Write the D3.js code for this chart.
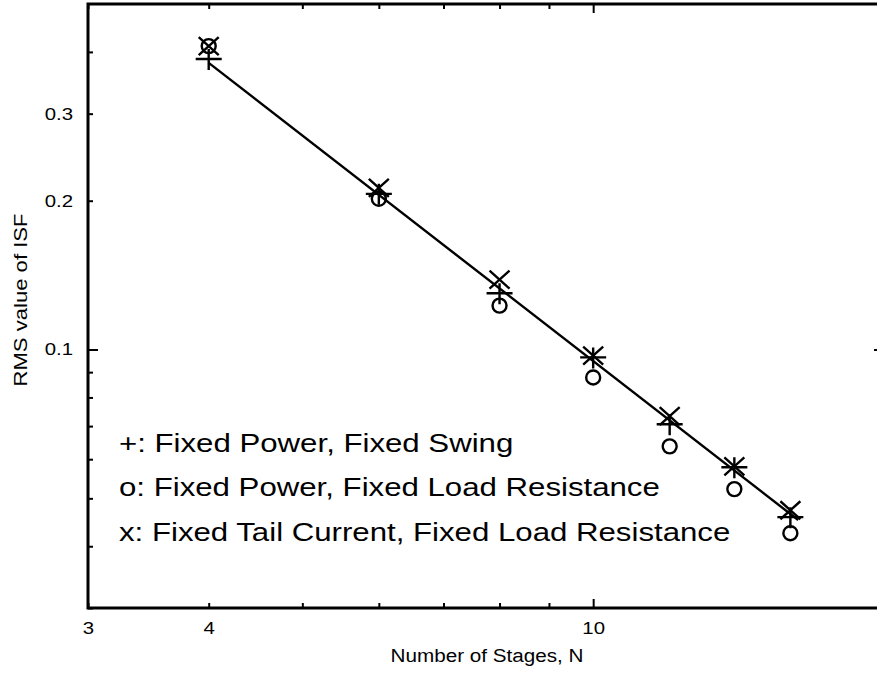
<!DOCTYPE html>
<html>
<head>
<meta charset="utf-8">
<script src="https://cdn.jsdelivr.net/npm/d3@7"></script>
<style>
  body { margin: 0; background: #fff; }
  svg { display: block; font-family: "Liberation Sans", Arial, sans-serif; }
</style>
</head>
<body>
<svg></svg>
<script>
const stages = [4, 6, 8, 10, 12, 14, 16];
const fixedSwing = [0.387, 0.2065, 0.130, 0.0964, 0.0706, 0.0578, 0.0458];
const fixedLoad = [0.411, 0.2018, 0.1227, 0.0878, 0.0637, 0.0522, 0.0425];
const fixedTail = [0.411, 0.2124, 0.1385, 0.0972, 0.0733, 0.0580, 0.0473];

// straight fitted line, end points
const fitStages = [4, 16.3];
const fitValues = [0.380, 0.0452];

const xTicks = [3, 4, 5, 6, 7, 8, 9, 10];
const xLabels = [3, 4, 10];
const yTicks = [0.03, 0.04, 0.05, 0.06, 0.07, 0.08, 0.09, 0.1, 0.2, 0.3, 0.4];
const yLabels = [0.1, 0.2, 0.3];

const legendLabels = [
  "+: Fixed Power, Fixed Swing",
  "o: Fixed Power, Fixed Load Resistance",
  "x: Fixed Tail Current, Fixed Load Resistance"
];

const width = 877;
const height = 675;
const plotLeft = 88, plotRight = 884, plotTop = 4, plotBottom = 608;
const stretch = 1.2; // the scanned lettering is wider than Liberation Sans

const svg = d3.select("svg").attr("width", width).attr("height", height);

const xScale = d3.scaleLog().domain([3, 20]).range([plotLeft, plotRight]);
const yScale = d3.scaleLog().domain([0.03, 0.5]).range([plotBottom, plotTop]);

const isMajor = (v) => Math.abs(Math.log10(v) - Math.round(Math.log10(v))) < 1e-9;

const drawAxes = () => {
  const fmtX = (d) => xLabels.includes(d) ? d : "";
  const fmtY = (d) => yLabels.includes(d) ? d : "";

  const bottomAxis = d3.axisBottom(xScale).tickValues(xTicks).tickFormat(fmtX).tickSizeOuter(0);
  const topAxis = d3.axisTop(xScale).tickValues(xTicks).tickFormat("").tickSizeOuter(0);
  const leftAxis = d3.axisLeft(yScale).tickValues(yTicks).tickFormat(fmtY).tickSizeOuter(0);
  const rightAxis = d3.axisRight(yScale).tickValues(yTicks).tickFormat("").tickSizeOuter(0);

  const gb = svg.append("g").attr("transform", `translate(0,${plotBottom})`).call(bottomAxis);
  const gt = svg.append("g").attr("transform", `translate(0,${plotTop})`).call(topAxis);
  const gl = svg.append("g").attr("transform", `translate(${plotLeft},0)`).call(leftAxis);
  const gr = svg.append("g").attr("transform", `translate(${plotRight},0)`).call(rightAxis);

  [gb, gt, gl, gr].forEach((g) => {
    g.select(".domain").remove();
    g.selectAll("line").attr("stroke", "#000").attr("stroke-width", 2);
    g.selectAll("text").attr("fill", "#000").style("font-size", "17px");
  });

  // ticks point into the plot
  gb.selectAll(".tick line").attr("y2", (d) => isMajor(d) ? -9 : -5);
  gt.selectAll(".tick line").attr("y2", (d) => isMajor(d) ? 9 : 5);
  gl.selectAll(".tick line").attr("x2", (d) => isMajor(d) ? 10 : 5);
  gr.selectAll(".tick line").attr("x2", (d) => isMajor(d) ? -10 : -5);
  gb.selectAll(".tick text").attr("y", 14).attr("transform", `scale(${stretch},1)`);
  gl.selectAll(".tick text").attr("x", -15 / stretch).attr("transform", `scale(${stretch},1)`);

  svg.append("rect")
     .attr("x", plotLeft).attr("y", plotTop)
     .attr("width", plotRight - plotLeft).attr("height", plotBottom - plotTop)
     .attr("fill", "none").attr("stroke", "#000").attr("stroke-width", 3);

  svg.append("text")
     .attr("x", 487).attr("y", 662)
     .attr("text-anchor", "middle")
     .attr("textLength", 193).attr("lengthAdjust", "spacingAndGlyphs")
     .style("font-size", "18px")
     .text("Number of Stages, N");

  svg.append("text")
     .attr("transform", "translate(27,300) rotate(-90)")
     .attr("text-anchor", "middle")
     .attr("textLength", 173).attr("lengthAdjust", "spacingAndGlyphs")
     .style("font-size", "18px")
     .text("RMS value of ISF");
}

const drawData = () => {
  const fit = fitStages.map((n, i) => [n, fitValues[i]]);
  svg.append("path")
     .datum(fit)
     .attr("d", d3.line().x((d) => xScale(d[0])).y((d) => yScale(d[1])))
     .attr("fill", "none").attr("stroke", "#000").attr("stroke-width", 2.4);

  const marks = svg.append("g").attr("fill", "none").attr("stroke", "#000").attr("stroke-width", 2.4);

  marks.selectAll(".plus")
       .data(stages.map((n, i) => [n, fixedSwing[i]]))
       .enter()
       .append("path")
       .attr("class", "plus")
       .attr("transform", (d) => `translate(${xScale(d[0])},${yScale(d[1])})`)
       .attr("d", "M-13,0H13M0,-10V11");

  marks.selectAll(".circ")
       .data(stages.map((n, i) => [n, fixedLoad[i]]))
       .enter()
       .append("circle")
       .attr("class", "circ")
       .attr("cx", (d) => xScale(d[0]))
       .attr("cy", (d) => yScale(d[1]))
       .attr("r", 7);

  marks.selectAll(".cross")
       .data(stages.map((n, i) => [n, fixedTail[i]]))
       .enter()
       .append("path")
       .attr("class", "cross")
       .attr("transform", (d) => `translate(${xScale(d[0])},${yScale(d[1])})`)
       .attr("d", "M-10,-9L10,9M-10,9L10,-9");
}

const drawLegend = () => {
  svg.append("g")
     .attr("transform", `translate(119,0) scale(${stretch},1)`)
     .selectAll("text")
     .data(legendLabels)
     .enter()
     .append("text")
     .attr("x", 0)
     .attr("y", (d, i) => 452 + i * 44.5)
     .style("font-size", "26px")
     .text((d) => d);
}

drawAxes()
drawData()
drawLegend()
</script>
</body>
</html>
